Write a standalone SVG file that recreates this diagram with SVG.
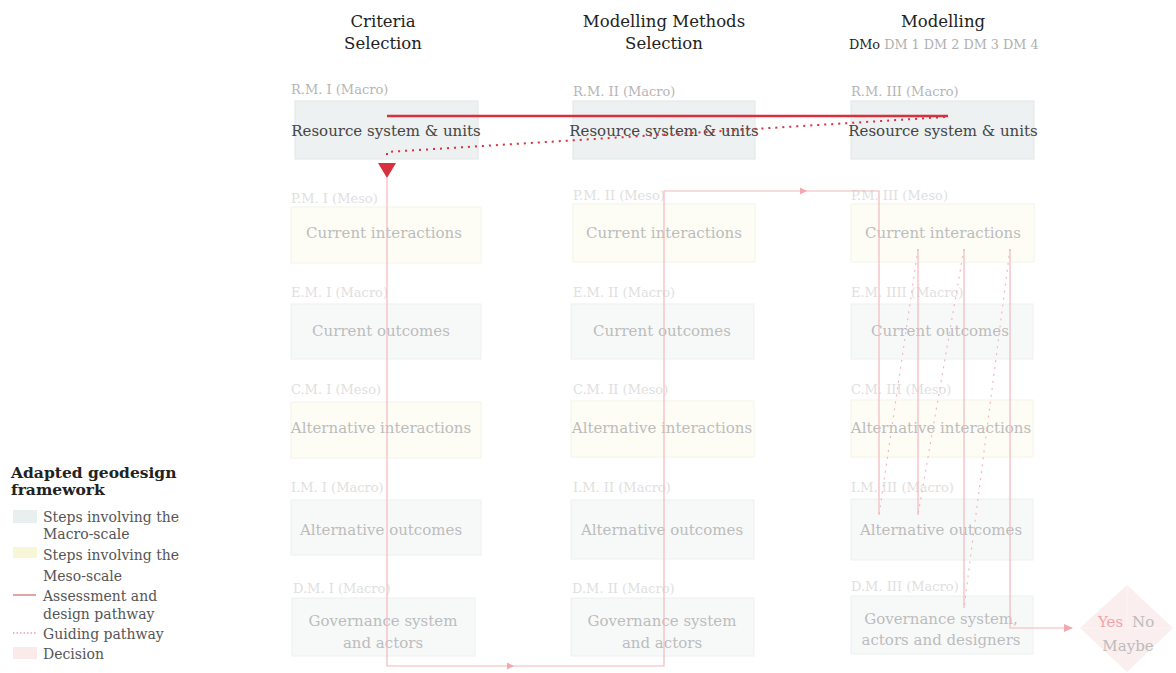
<svg xmlns="http://www.w3.org/2000/svg" width="1176" height="673" viewBox="0 0 1176 673">
<defs>
<style>
text{font-family:"DejaVu Serif","Liberation Serif",serif;}
.hd{font-size:16.5px;fill:#222;text-anchor:middle;}
.dm{font-size:12.8px;fill:#b0b0b0;}
.lbR{font-size:13px;fill:#b5b5b5;}
.lb{font-size:13px;fill:#e0e0e0;}
.bxR{fill:#edf1f1;stroke:#e2e6e6;stroke-width:1;}
.bxMe{fill:#fdfdf6;stroke:#f4f4ea;stroke-width:1;}
.bxMa{fill:#f7f9f9;stroke:#eef0f0;stroke-width:1;}
.tR{font-size:15px;fill:#444;text-anchor:middle;}
.t{font-size:15px;fill:#bcbcbc;text-anchor:middle;}
.lg{font-size:14px;fill:#555;}
.pk{fill:none;stroke:#f4b8bc;stroke-width:1.2;}
.pkd{fill:none;stroke:#f4b8bc;stroke-width:1.2;stroke-dasharray:2 5;}
</style>
</defs>
<rect width="1176" height="673" fill="#fff"/>

<g id="headers">
<text class="hd" x="383" y="27">Criteria</text>
<text class="hd" x="383" y="49">Selection</text>
<text class="hd" x="664" y="27">Modelling Methods</text>
<text class="hd" x="664" y="49">Selection</text>
<text class="hd" x="943" y="27">Modelling</text>
<text x="849" y="49" class="dm"><tspan fill="#222">DMo</tspan> DM 1 DM 2 DM 3 DM 4</text>
</g>

<g id="RM1"><text class="lbR" x="291" y="94">R.M. I (Macro)</text><rect class="bxR" x="295" y="101" width="183" height="58"/><text class="tR" x="386" y="136">Resource system &amp; units</text></g>
<g id="RM2"><text class="lbR" x="573" y="96">R.M. II (Macro)</text><rect class="bxR" x="573" y="101" width="182" height="58"/><text class="tR" x="664" y="136">Resource system &amp; units</text></g>
<g id="RM3"><text class="lbR" x="851" y="96">R.M. III (Macro)</text><rect class="bxR" x="851" y="101" width="183" height="58"/><text class="tR" x="943" y="136">Resource system &amp; units</text></g>

<g id="PM1"><text class="lb" x="291" y="203">P.M. I (Meso)</text><rect class="bxMe" x="291" y="207" width="190" height="56"/><text class="t" x="384" y="238">Current interactions</text></g>
<g id="PM2"><text class="lb" x="573" y="200">P.M. II (Meso)</text><rect class="bxMe" x="573" y="204" width="182" height="58"/><text class="t" x="664" y="238">Current interactions</text></g>
<g id="PM3"><text class="lb" x="851" y="200">P.M. III (Meso)</text><rect class="bxMe" x="851" y="204" width="183" height="58"/><text class="t" x="943" y="238">Current interactions</text></g>

<g id="EM1"><text class="lb" x="291" y="297">E.M. I  (Macro)</text><rect class="bxMa" x="291" y="304" width="190" height="55"/><text class="t" x="381" y="336">Current outcomes</text></g>
<g id="EM2"><text class="lb" x="573" y="297">E.M. II  (Macro)</text><rect class="bxMa" x="571" y="304" width="183" height="55"/><text class="t" x="662" y="336">Current outcomes</text></g>
<g id="EM3"><text class="lb" x="851" y="297">E.M. IIII  (Macro)</text><rect class="bxMa" x="851" y="304" width="182" height="55"/><text class="t" x="940" y="336">Current outcomes</text></g>

<g id="CM1"><text class="lb" x="291" y="394">C.M. I (Meso)</text><rect class="bxMe" x="291" y="402" width="190" height="56"/><text class="t" x="381" y="433">Alternative interactions</text></g>
<g id="CM2"><text class="lb" x="573" y="394">C.M. II (Meso)</text><rect class="bxMe" x="571" y="401" width="183" height="56"/><text class="t" x="662" y="433">Alternative interactions</text></g>
<g id="CM3"><text class="lb" x="851" y="394">C.M. III (Meso)</text><rect class="bxMe" x="851" y="400" width="182" height="57"/><text class="t" x="941" y="433">Alternative interactions</text></g>

<g id="IM1"><text class="lb" x="291" y="492">I.M. I  (Macro)</text><rect class="bxMa" x="291" y="500" width="190" height="55"/><text class="t" x="381" y="535">Alternative outcomes</text></g>
<g id="IM2"><text class="lb" x="573" y="492">I.M. II  (Macro)</text><rect class="bxMa" x="571" y="500" width="183" height="59"/><text class="t" x="662" y="535">Alternative outcomes</text></g>
<g id="IM3"><text class="lb" x="851" y="492">I.M. III  (Macro)</text><rect class="bxMa" x="851" y="499" width="182" height="61"/><text class="t" x="941" y="535">Alternative outcomes</text></g>

<g id="DM1"><text class="lb" x="293" y="593">D.M. I  (Macro)</text><rect class="bxMa" x="292" y="598" width="183" height="58"/><text class="t" x="383" y="626">Governance system</text><text class="t" x="383" y="648">and actors</text></g>
<g id="DM2"><text class="lb" x="572" y="593">D.M. II  (Macro)</text><rect class="bxMa" x="571" y="598" width="183" height="58"/><text class="t" x="662" y="626">Governance system</text><text class="t" x="662" y="648">and actors</text></g>
<g id="DM3"><text class="lb" x="851" y="591">D.M. III  (Macro)</text><rect class="bxMa" x="851" y="596" width="182" height="58"/><text class="t" x="941" y="624">Governance system,</text><text class="t" x="941" y="645">actors and designers</text></g>

<g id="decision">
<path d="M1127,585 L1173,628 L1127,672 L1080,628 Z" fill="#fbeeee"/>
<path d="M1127,585 L1127,628 M1080,628 L1173,628" stroke="#fdf5f5" stroke-width="1" fill="none"/>
<text x="1098" y="627" font-size="15" fill="#f2a4a8">Yes</text>
<text x="1132" y="627" font-size="15" fill="#bcbcbc">No</text>
<text x="1128" y="651" font-size="15" fill="#bcbcbc" text-anchor="middle">Maybe</text>
</g>

<g id="connectors">
<path class="pk" d="M387,178 L387,666 L664,666 L664,191 L879,191 L879,515"/>
<path d="M507,662.5 L514,666 L507,669.5 Z" fill="#f2a8ae"/>
<path d="M800,187.5 L807,191 L800,194.5 Z" fill="#f2a8ae"/>
<path class="pk" d="M918,249 L918,515"/>
<path class="pk" d="M964,249 L964,608"/>
<path class="pk" d="M1010,249 L1010,628 L1072,628"/>
<path d="M1064,624 L1073,628 L1064,632 Z" fill="#f2a8ae"/>
<path class="pkd" d="M918,249 L879,515"/>
<path class="pkd" d="M964,249 L918,515"/>
<path class="pkd" d="M1010,249 L964,608"/>
<path d="M387,116 L948,116" stroke="#d9303f" stroke-width="2.5" fill="none"/>
<path d="M945,117 L387,152 L387,160" stroke="#d9303f" stroke-width="2" stroke-dasharray="2 5" fill="none"/>
<path d="M378,163 L396,163 L387,178 Z" fill="#d9303f"/>
</g>

<g id="legend">
<text x="11" y="478" font-size="15.5" fill="#222" font-weight="bold">Adapted geodesign</text>
<text x="11" y="495" font-size="15.5" fill="#222" font-weight="bold">framework</text>
<rect x="13" y="510" width="24" height="13" fill="#e9eeee"/>
<text class="lg" x="43" y="522">Steps involving the</text>
<text class="lg" x="43" y="539">Macro-scale</text>
<rect x="13" y="547" width="24" height="11" fill="#f7f7d8"/>
<text class="lg" x="43" y="560">Steps involving the</text>
<text class="lg" x="43" y="581">Meso-scale</text>
<path d="M13,595 L36,595" stroke="#c86a6a" stroke-width="1.2"/>
<text class="lg" x="43" y="601">Assessment and</text>
<text class="lg" x="43" y="619">design pathway</text>
<path d="M13,633 L36,633" stroke="#e07080" stroke-width="1.2" stroke-dasharray="1.5 2"/>
<text class="lg" x="43" y="639">Guiding pathway</text>
<rect x="13" y="647" width="24" height="12" fill="#fbeaea"/>
<text class="lg" x="43" y="659">Decision</text>
</g>
</svg>
